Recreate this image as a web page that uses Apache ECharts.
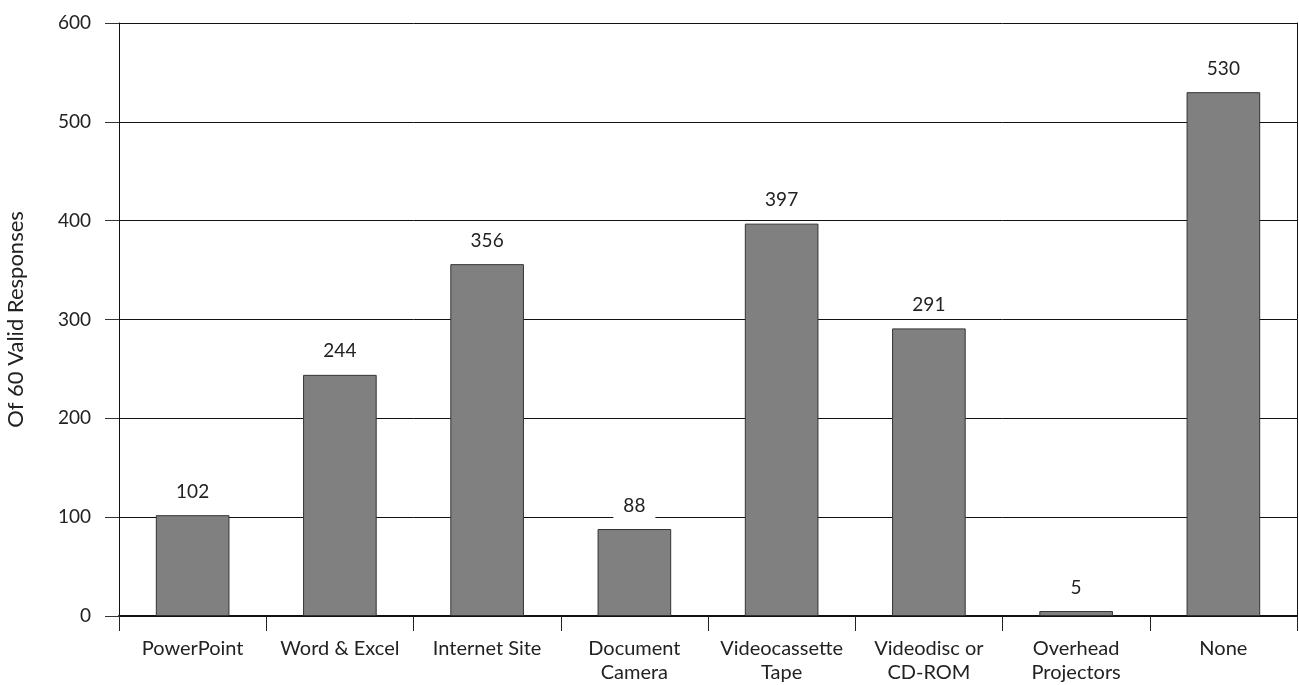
<!DOCTYPE html>
<html>
<head>
<meta charset="utf-8">
<script src="https://cdn.jsdelivr.net/npm/echarts@6/dist/echarts.min.js"></script>
<style>
  html, body { margin: 0; padding: 0; background: #fff; }
  #chart { width: 1299px; height: 685px; }
</style>
</head>
<body>
<div id="chart"></div>
<script>
// Technology used in classrooms: response counts per item
const categories = [
  'PowerPoint', 'Word & Excel', 'Internet Site', 'Document\nCamera',
  'Videocassette\nTape', 'Videodisc or\nCD-ROM', 'Overhead\nProjectors', 'None'
];
const responses = [102, 244, 356, 88, 397, 291, 5, 530];
const yTicks = { min: 0, max: 600, interval: 100 };
const yAxisTitle = 'Of 60 Valid Responses';

const FONT = 'Lato, "Open Sans", sans-serif';
const TEXT = '#222';

const chart = echarts.init(document.getElementById('chart'), null, { renderer: 'canvas' });

chart.setOption({
  animation: false,
  backgroundColor: '#fff',
  grid: {
    left: 119, right: 2, top: 23, bottom: 69,
    containLabel: false,
    outerBoundsMode: 'none'
  },
  xAxis: {
    type: 'category',
    data: categories,
    boundaryGap: true,
    axisLine: { show: true, lineStyle: { color: '#111', width: 2 } },
    axisTick: { show: true, length: 15, alignWithLabel: false, lineStyle: { color: '#222', width: 1 } },
    axisLabel: {
      color: TEXT, fontFamily: FONT, fontSize: 20, margin: 21,
      lineHeight: 24, interval: 0
    },
    splitLine: { show: false }
  },
  yAxis: [
    {
      type: 'value',
      min: yTicks.min, max: yTicks.max, interval: yTicks.interval,
      name: yAxisTitle,
      nameLocation: 'middle',
      nameGap: 92,
      nameRotate: 90,
      nameTextStyle: { color: TEXT, fontFamily: FONT, fontSize: 22 },
      axisLine: { show: true, lineStyle: { color: '#111', width: 1 } },
      axisTick: { show: true, length: 14, lineStyle: { color: '#333', width: 1 } },
      axisLabel: { color: TEXT, fontFamily: FONT, fontSize: 19, margin: 28 },
      splitLine: { show: true, lineStyle: { color: '#111', width: 1 } }
    },
    {
      // right-hand frame line
      type: 'value',
      position: 'right',
      min: yTicks.min, max: yTicks.max, interval: yTicks.interval,
      axisLine: { show: true, lineStyle: { color: '#111', width: 1 } },
      axisTick: { show: false },
      axisLabel: { show: false },
      splitLine: { show: false }
    }
  ],
  series: [{
    type: 'bar',
    data: responses,
    barWidth: '50%',
    itemStyle: { color: '#808080', borderColor: '#333', borderWidth: 1 },
    label: {
      show: true,
      position: 'top',
      distance: 11,
      color: TEXT,
      fontFamily: FONT,
      fontSize: 19,
      backgroundColor: '#fff',
      padding: [3, 10]
    },
    z: 3
  }]
});
</script>
</body>
</html>
